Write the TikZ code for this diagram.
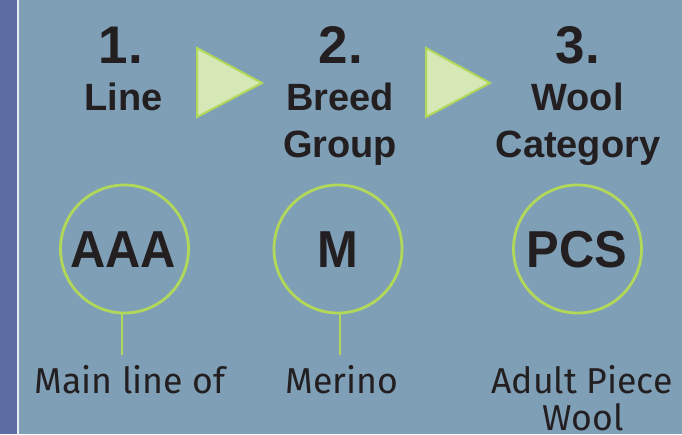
\documentclass[tikz,border=0pt]{standalone}
\usepackage{fontspec}
\newfontfamily\headfont{Liberation Sans}
\newfontfamily\codefont{Liberation Sans}[FakeStretch=0.94]
\newfontfamily\labfont{Fira Sans}[FakeStretch=0.99]
\definecolor{bgblue}{HTML}{7F9FB7}
\definecolor{stripblue}{HTML}{5E6CA4}
\definecolor{stripline}{HTML}{E6ECF4}
\definecolor{lgreen}{HTML}{B2D85A}
\definecolor{tfill}{HTML}{D6E8B5}
\definecolor{ink}{HTML}{231F20}
\tikzset{
  numtxt/.style={anchor=base, inner sep=0pt, text=ink, font=\headfont\bfseries\fontsize{53}{53}\selectfont},
  headtxt/.style={anchor=base, inner sep=0pt, text=ink, font=\headfont\bfseries\fontsize{38}{38}\selectfont},
  codetxt/.style={anchor=base, inner sep=0pt, text=ink, font=\codefont\bfseries\fontsize{52}{52}\selectfont},
  labtxt/.style={anchor=base, inner sep=0pt, text=ink, font=\labfont\fontsize{36}{36}\selectfont},
  ring/.style={circle, draw=lgreen, line width=2.8pt, minimum size=128pt, inner sep=0pt},
  stem/.style={draw=lgreen, line width=2.8pt},
  tri/.style={draw=lgreen, fill=tfill, line width=2pt, line join=miter}
}
\begin{document}
\begin{tikzpicture}[x=1pt,y=-1pt]
\useasboundingbox (0,0) rectangle (682,434);
\fill[bgblue] (0,0) rectangle (682,434);
\fill[stripblue] (0,0) rectangle (16.5,434);
\fill[stripline] (16.5,0) rectangle (19,434);

% arrows
\draw[tri] (197,48) -- (197,117) -- (262,83) -- cycle;
\draw[tri] (426,48) -- (426,117) -- (490,83) -- cycle;

% headings
\node[numtxt] (n1) at (121,63) {1.};
\node[headtxt] (h1) at (123.5,110) {Line};
\node[numtxt] (n2) at (341,63) {2.};
\node[headtxt] (h2a) at (340,110) {Breed};
\node[headtxt] (h2b) at (340,157) {Group};
\node[numtxt] (n3) at (578,63) {3.};
\node[headtxt] (h3a) at (577.5,110) {Wool};
\node[headtxt] (h3b) at (578,157) {Category};

% circles
\node[ring] (c1) at (124.5,249) {};
\node[ring] (c2) at (338,249) {};
\node[ring] (c3) at (577.5,249) {};
\node[codetxt] (t1) at (123,267) {AAA};
\node[codetxt] (t2) at (338,267) {M};
\node[codetxt] (t3) at (577,267) {PCS};

% stems
\coordinate (s1) at (122,355);
\coordinate (s2) at (340,355);
\draw[stem] (c1.south -| s1) -- (s1);
\draw[stem] (c2.south -| s2) -- (s2);

% labels
\node[labtxt] (l1) at (130,393) {Main line of};
\node[labtxt] (l2) at (342,393) {Merino};
\node[labtxt] (l3a) at (582,393) {Adult Piece};
\node[labtxt] (l3b) at (583,430) {Wool};
\end{tikzpicture}
\end{document}
